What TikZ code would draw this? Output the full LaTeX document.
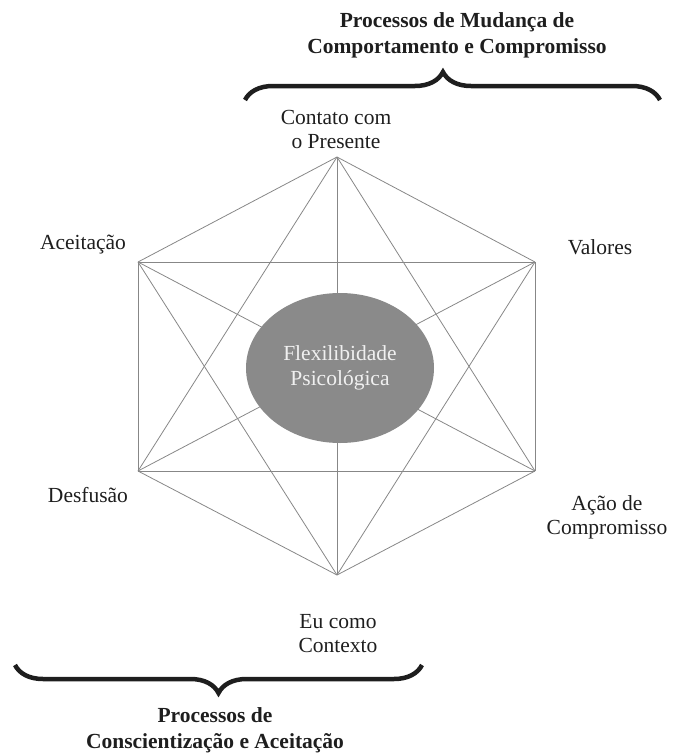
\documentclass[tikz,border=0pt]{standalone}
\usepackage{fontspec}
\setmainfont{Liberation Serif}
\usepackage{xcolor}
\usepackage{tikz}
\usetikzlibrary{shapes.geometric, decorations.pathreplacing}
\definecolor{linegray}{RGB}{135, 135, 135}
\definecolor{corefill}{RGB}{138, 138, 138}
\definecolor{coretext}{RGB}{240, 240, 240}
\definecolor{inkdark}{RGB}{30, 30, 30}

\begin{document}
\begin{tikzpicture}[x=1pt, y=-1pt,
    process/.style={align=center, inner sep=0pt, text=inkdark, font=\fontsize{21.5}{24}\selectfont},
    heading/.style={align=center, inner sep=0pt, text=inkdark, font=\fontsize{21.5}{26}\selectfont\bfseries},
    link/.style={draw=linegray, line width=0.8pt},
    curly/.style={decorate, decoration={brace, amplitude=28pt, aspect=#1}, line width=4.5pt, inkdark}
]
    \useasboundingbox (0, 0) rectangle (673, 753);

    % Hexagon corners
    \coordinate (top) at (337, 157);
    \coordinate (ul) at (138, 262);
    \coordinate (ur) at (535, 262);
    \coordinate (ll) at (138, 471);
    \coordinate (lr) at (535, 471);
    \coordinate (bot) at (337, 575);

    % Every corner joined to every other one
    \foreach \a/\b in {top/ul, top/ur, top/ll, top/lr, top/bot,
                       ul/ur, ul/ll, ul/lr, ul/bot,
                       ur/ll, ur/lr, ur/bot,
                       ll/lr, ll/bot, lr/bot}
        \draw[link] (\a) -- (\b);

    % Centre
    \node[ellipse, fill=corefill, minimum width=188, minimum height=150, align=center,
          text=coretext, font=\fontsize{21.5}{25}\selectfont] (core) at (340, 368)
        {Flexilibidade\\Psicológica};

    % Processes
    \node[process] (contato) at (336, 129) {Contato com\\o Presente};
    \node[process] (aceitacao) at (83, 245) {Aceitação};
    \node[process] (valores) at (600, 247) {Valores};
    \node[process] (desfusao) at (88, 495) {Desfusão};
    \node[process] (acao) at (607, 517) {Ação de\\Compromisso};
    \node[process] (eu) at (338, 634) {Eu como\\Contexto};

    % Groups
    \coordinate (topl) at (245, 100);
    \coordinate (topr) at (660, 100);
    \draw[curly=0.477] (topl) -- (topr);
    \node[heading] (mudanca) at (457, 35) {Processos de Mudança de\\Comportamento e Compromisso};

    \coordinate (botr) at (422, 665);
    \coordinate (botl) at (15, 665);
    \draw[curly=0.5] (botr) -- (botl);
    \node[heading] (conscient) at (215, 730) {Processos de\\Conscientização e Aceitação};
\end{tikzpicture}
\end{document}
